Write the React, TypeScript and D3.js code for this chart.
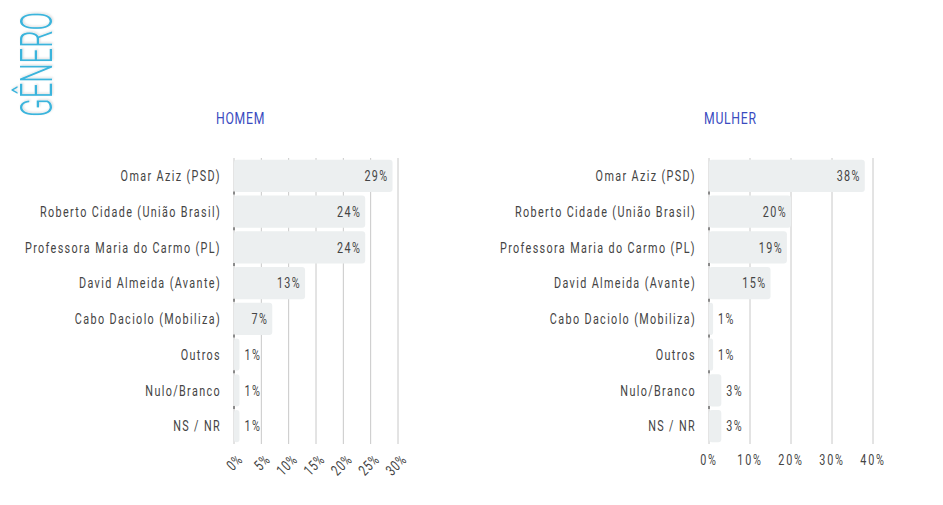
import * as d3 from 'd3'
import type { ReactNode } from 'react'

const candidates = [
  'Omar Aziz (PSD)',
  'Roberto Cidade (União Brasil)',
  'Professora Maria do Carmo (PL)',
  'David Almeida (Avante)',
  'Cabo Daciolo (Mobiliza)',
  'Outros',
  'Nulo/Branco',
  'NS / NR',
]
const homem = [29, 24, 24, 13, 7, 1, 1, 1]
const mulher = [38, 20, 19, 15, 1, 1, 3, 3]
const homemTicks = [0, 5, 10, 15, 20, 25, 30]
const mulherTicks = [0, 10, 20, 30, 40]

const FONT = "Roboto, 'Noto Sans', sans-serif"
const TEXT = '#444'
const SQUEEZE = 0.72

// no condensed face is installed, so squeeze a regular one horizontally
function Narrow({ x, y, anchor = 'start', size = 15, fill = TEXT, spacing = 1.9, rotate = 0, children }:
  { x: number; y: number; anchor?: string; size?: number; fill?: string; spacing?: number; rotate?: number; children: ReactNode }) {
  return (
    <text transform={`translate(${x},${y}) rotate(${rotate}) scale(${SQUEEZE},1)`} textAnchor={anchor} dy="0.35em"
      fontSize={size} fill={fill} letterSpacing={spacing}>{children}</text>
  )
}

interface PanelProps {
  title: string
  values: number[]
  ticks: number[]
  x0: number
  x1: number
  titleX: number
  rotateTicks: boolean
}

function Panel({ title, values, ticks, x0, x1, titleX, rotateTicks }: PanelProps) {
  const max = ticks[ticks.length - 1]
  const x = d3.scaleLinear().domain([0, max]).range([x0, x1])
  const y = d3.scaleBand<string>().domain(candidates).range([158, 444]).paddingInner(0.1).paddingOuter(0.05)
  const bw = y.bandwidth()
  const mid = (c: string) => (y(c) as number) + bw / 2

  return (
    <g fontFamily={FONT}>
      <Narrow x={titleX} y={118} size={17} fill="#3a4bbf" spacing={1}>{title}</Narrow>

      {/* grid */}
      {ticks.map(t => (
        <line key={t} x1={x(t)} x2={x(t)} y1={158} y2={444} stroke="#c8c8c8" strokeWidth={1} />
      ))}

      {/* bars */}
      {candidates.map((c, i) => (
        <rect key={c} x={x(0)} y={y(c)} width={x(values[i]) - x(0)} height={bw} rx={3} fill="#eceff0" />
      ))}

      {/* y ticks between bars */}
      {candidates.slice(1).map(c => (
        <line key={c} x1={x(0)} x2={x(0)} y1={(y(c) as number) - 4} y2={(y(c) as number) - 1} stroke="#333" strokeWidth={1} />
      ))}

      {/* category labels */}
      {candidates.map(c => (
        <Narrow key={c} x={x0 - 13} y={mid(c)} anchor="end">{c}</Narrow>
      ))}

      {/* value labels */}
      {candidates.map((c, i) => {
        const w = x(values[i]) - x(0)
        const inside = w > 30
        return (
          <Narrow key={c} x={inside ? x(values[i]) - 4 : x(values[i]) + 5} y={mid(c)}
            anchor={inside ? 'end' : 'start'}>{values[i]}%</Narrow>
        )
      })}

      {/* x tick labels */}
      {ticks.map(t => rotateTicks ? (
        <Narrow key={t} x={x(t) + 6} y={457} rotate={-45} anchor="end" spacing={1}>{t}%</Narrow>
      ) : (
        <Narrow key={t} x={x(t)} y={460} anchor="middle" spacing={2.5}>{t}%</Narrow>
      ))}
    </g>
  )
}

export default function App() {
  return (
    <svg width={943} height={505} style={{ position: 'absolute', left: 0, top: 0 }}>
      <defs>
        <filter id="soft" x="-20%" y="-20%" width="140%" height="140%">
          <feDropShadow dx="1" dy="1" stdDeviation="1.2" floodColor="#000" floodOpacity={0.15} />
        </filter>
      </defs>
      <rect width={943} height={505} fill="#fff" />
      <text transform="translate(52,117) rotate(-90)" fontFamily={FONT} fontSize={44} fontWeight={300} fill="#3ab4dc"
        textLength={105} lengthAdjust="spacingAndGlyphs" filter="url(#soft)">GÊNERO</text>
      <Panel title="HOMEM" values={homem} ticks={homemTicks} x0={234} x1={398} titleX={216} rotateTicks />
      <Panel title="MULHER" values={mulher} ticks={mulherTicks} x0={709} x1={873} titleX={704} rotateTicks={false} />
    </svg>
  )
}
